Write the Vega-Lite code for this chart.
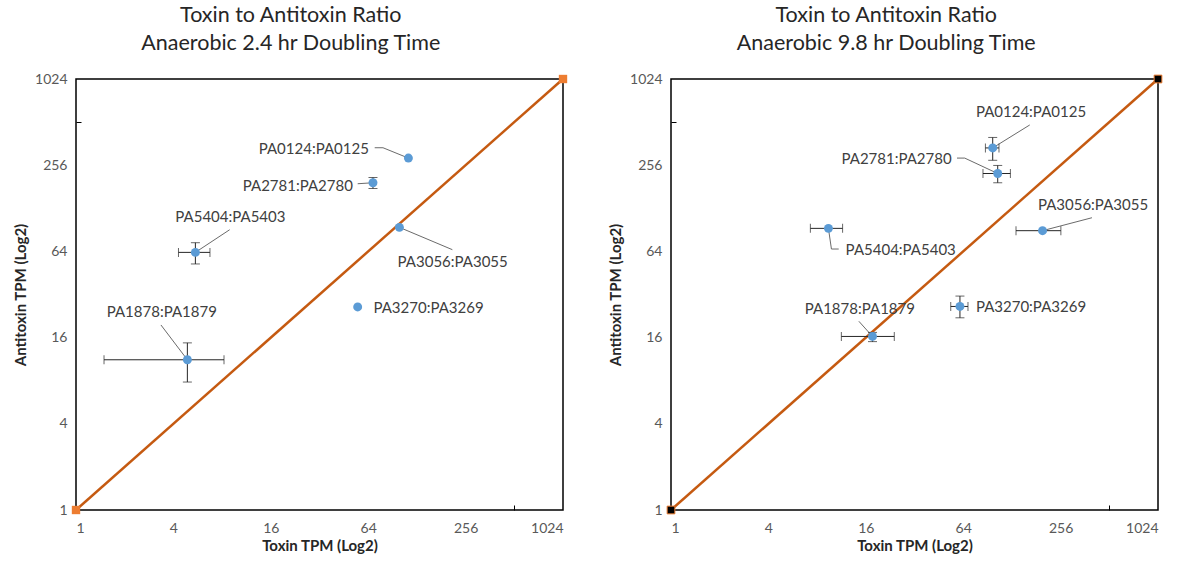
{
  "$schema": "https://vega.github.io/schema/vega-lite/v6.json",
  "padding": {"left": 12, "top": 3, "right": 5, "bottom": 5},
  "config": {
    "font": "Lato",
    "view": {"stroke": "#000000", "strokeWidth": 1.5},
    "axis": {"labelFontSize": 14, "labelColor": "#595959", "titleFontSize": 15, "titleFontWeight": "bold", "titleColor": "#262626", "grid": false, "domain": false, "format": "d",
      "ticks": true, "tickSize": -5, "tickColor": "#000000", "tickWidth": 1, "tickOpacity": {"expr": "datum.value === 512 ? 1 : 0"},
      "labelExpr": "datum.value === 512 ? '' : datum.label"},
    "title": {"fontSize": 21.5, "fontWeight": "normal", "color": "#262626", "lineHeight": 28, "offset": 18, "frame": "bounds"}
  },
  "datasets": {
    "diag": [{"x": 1, "y": 1}, {"x": 1024, "y": 1024}],
    "ptsL": [
      {"name": "PA0124:PA0125", "x": 113.4, "y": 287, "xlo": null, "xhi": null, "ylo": null, "yhi": null, "lx": 29.5, "ly": 332},
      {"name": "PA2781:PA2780", "x": 68.5, "y": 193, "xlo": null, "xhi": null, "ylo": 176, "yhi": 210, "lx": 23.5, "ly": 184},
      {"name": "PA5404:PA5403", "x": 5.47, "y": 63, "xlo": 4.3, "xhi": 6.73, "ylo": 52.3, "yhi": 73.6, "lx": 9.0, "ly": 110.6},
      {"name": "PA3056:PA3055", "x": 99.8, "y": 94.2, "xlo": null, "xhi": null, "ylo": null, "yhi": null, "lx": 213, "ly": 53.6},
      {"name": "PA3270:PA3269", "x": 55.1, "y": 26.2, "xlo": null, "xhi": null, "ylo": null, "yhi": null, "lx": 151, "ly": 25.8},
      {"name": "PA1878:PA1879", "x": 4.88, "y": 11.2, "xlo": 1.49, "xhi": 8.22, "ylo": 7.83, "yhi": 14.7, "lx": 3.39, "ly": 24.0}
    ],
    "ptsR": [
      {"name": "PA0124:PA0125", "x": 97.4, "y": 338, "xlo": 87.8, "xhi": 106.5, "ylo": 277, "yhi": 400, "lx": 168, "ly": 599},
      {"name": "PA2781:PA2780", "x": 104.6, "y": 224, "xlo": 84.8, "xhi": 125.3, "ylo": 193, "yhi": 255, "lx": 24.8, "ly": 283},
      {"name": "PA5404:PA5403", "x": 9.4, "y": 92.7, "xlo": 7.27, "xhi": 11.5, "ylo": null, "yhi": null, "lx": 26.3, "ly": 65.4},
      {"name": "PA3056:PA3055", "x": 198, "y": 89.3, "xlo": 135.7, "xhi": 257, "ylo": null, "yhi": null, "lx": 406, "ly": 135},
      {"name": "PA3270:PA3269", "x": 61.1, "y": 26.4, "xlo": 53.6, "xhi": 68.5, "ylo": 22.0, "yhi": 31.2, "lx": 168, "ly": 26.3},
      {"name": "PA1878:PA1879", "x": 17.6, "y": 16.3, "xlo": 11.3, "xhi": 24.0, "ylo": 15.0, "yhi": 17.4, "lx": 14.7, "ly": 25.3}
    ],
    "leadL": [
      {"name": "PA0124:PA0125", "ord": 1, "x": 70.2, "y": 339},
      {"name": "PA0124:PA0125", "ord": 2, "x": 79.0, "y": 339},
      {"name": "PA0124:PA0125", "ord": 3, "x": 113.4, "y": 287},
      {"name": "PA2781:PA2780", "ord": 1, "x": 55.1, "y": 190},
      {"name": "PA2781:PA2780", "ord": 2, "x": 68.5, "y": 193},
      {"name": "PA5404:PA5403", "ord": 1, "x": 8.91, "y": 90.7},
      {"name": "PA5404:PA5403", "ord": 2, "x": 5.47, "y": 63},
      {"name": "PA3056:PA3055", "ord": 1, "x": 212, "y": 65.8},
      {"name": "PA3056:PA3055", "ord": 2, "x": 99.8, "y": 94.2},
      {"name": "PA1878:PA1879", "ord": 1, "x": 3.35, "y": 19.6},
      {"name": "PA1878:PA1879", "ord": 2, "x": 4.88, "y": 11.2}
    ],
    "leadR": [
      {"name": "PA0124:PA0125", "ord": 1, "x": 165, "y": 489},
      {"name": "PA0124:PA0125", "ord": 2, "x": 97.4, "y": 338},
      {"name": "PA2781:PA2780", "ord": 1, "x": 58.6, "y": 287},
      {"name": "PA2781:PA2780", "ord": 2, "x": 65.4, "y": 287},
      {"name": "PA2781:PA2780", "ord": 3, "x": 104.6, "y": 224},
      {"name": "PA5404:PA5403", "ord": 1, "x": 10.88, "y": 66.5},
      {"name": "PA5404:PA5403", "ord": 2, "x": 9.81, "y": 66.5},
      {"name": "PA5404:PA5403", "ord": 3, "x": 9.4, "y": 92.7},
      {"name": "PA3056:PA3055", "ord": 1, "x": 400, "y": 110},
      {"name": "PA3056:PA3055", "ord": 2, "x": 198, "y": 89.3},
      {"name": "PA1878:PA1879", "ord": 1, "x": 14.5, "y": 20.8},
      {"name": "PA1878:PA1879", "ord": 2, "x": 17.6, "y": 16.3}
    ]
  },
  "spacing": 38,
  "hconcat": [
    {
      "width": 487, "height": 431,
      "title": {"text": ["Toxin to Antitoxin Ratio", "Anaerobic 2.4 hr Doubling Time"]},
      "layer": [
        {"data": {"name": "diag"}, "mark": {"type": "line", "color": "#C55A11", "strokeWidth": 2.5},
         "encoding": {
           "x": {"field": "x", "type": "quantitative", "title": "Toxin TPM (Log2)", "scale": {"type": "log", "base": 2, "domain": [1, 1024], "nice": false}, "axis": {"values": [1, 4, 16, 64, 256, 512, 1024], "labelPadding": 16, "titlePadding": 3}},
           "y": {"field": "y", "type": "quantitative", "title": "Antitoxin TPM (Log2)", "scale": {"type": "log", "base": 2, "domain": [1, 1024], "nice": false}, "axis": {"values": [1, 4, 16, 64, 256, 512, 1024], "labelPadding": 14, "titlePadding": 6}}
         }},
        {"data": {"name": "diag"}, "mark": {"type": "square", "size": 70, "opacity": 1, "color": "#ED7D31", "clip": false},
         "encoding": {"x": {"field": "x", "type": "quantitative"}, "y": {"field": "y", "type": "quantitative"}}},
        {"data": {"name": "leadL"}, "mark": {"type": "line", "color": "#595959", "strokeWidth": 0.9},
         "encoding": {"x": {"field": "x", "type": "quantitative"}, "y": {"field": "y", "type": "quantitative"}, "detail": {"field": "name"}, "order": {"field": "ord"}}},
        {"data": {"name": "ptsL"}, "transform": [{"filter": "isValid(datum.xlo)"}],
         "layer": [
           {"mark": {"type": "rule", "color": "#262626", "strokeWidth": 1},
            "encoding": {"x": {"field": "xlo", "type": "quantitative"}, "x2": {"field": "xhi"}, "y": {"field": "y", "type": "quantitative"}}},
           {"mark": {"type": "tick", "orient": "vertical", "size": 9, "thickness": 1, "color": "#262626"},
            "encoding": {"x": {"field": "xlo", "type": "quantitative"}, "y": {"field": "y", "type": "quantitative"}}},
           {"mark": {"type": "tick", "orient": "vertical", "size": 9, "thickness": 1, "color": "#262626"},
            "encoding": {"x": {"field": "xhi", "type": "quantitative"}, "y": {"field": "y", "type": "quantitative"}}}
         ]},
        {"data": {"name": "ptsL"}, "transform": [{"filter": "isValid(datum.ylo)"}],
         "layer": [
           {"mark": {"type": "rule", "color": "#262626", "strokeWidth": 1},
            "encoding": {"y": {"field": "ylo", "type": "quantitative"}, "y2": {"field": "yhi"}, "x": {"field": "x", "type": "quantitative"}}},
           {"mark": {"type": "tick", "orient": "horizontal", "size": 9, "thickness": 1, "color": "#262626"},
            "encoding": {"y": {"field": "ylo", "type": "quantitative"}, "x": {"field": "x", "type": "quantitative"}}},
           {"mark": {"type": "tick", "orient": "horizontal", "size": 9, "thickness": 1, "color": "#262626"},
            "encoding": {"y": {"field": "yhi", "type": "quantitative"}, "x": {"field": "x", "type": "quantitative"}}}
         ]},
        {"data": {"name": "ptsL"}, "mark": {"type": "circle", "size": 80, "opacity": 1, "color": "#5B9BD5"},
         "encoding": {"x": {"field": "x", "type": "quantitative"}, "y": {"field": "y", "type": "quantitative"}}},
        {"data": {"name": "ptsL"}, "mark": {"type": "text", "fontSize": 15, "color": "#404040", "align": "center", "baseline": "middle"},
         "encoding": {"x": {"field": "lx", "type": "quantitative"}, "y": {"field": "ly", "type": "quantitative"}, "text": {"field": "name"}}}
      ]
    },
    {
      "width": 487, "height": 431,
      "title": {"text": ["Toxin to Antitoxin Ratio", "Anaerobic 9.8 hr Doubling Time"]},
      "layer": [
        {"data": {"name": "diag"}, "mark": {"type": "line", "color": "#C55A11", "strokeWidth": 2.5},
         "encoding": {
           "x": {"field": "x", "type": "quantitative", "title": "Toxin TPM (Log2)", "scale": {"type": "log", "base": 2, "domain": [1, 1024], "nice": false}, "axis": {"values": [1, 4, 16, 64, 256, 512, 1024], "labelPadding": 16, "titlePadding": 3}},
           "y": {"field": "y", "type": "quantitative", "title": "Antitoxin TPM (Log2)", "scale": {"type": "log", "base": 2, "domain": [1, 1024], "nice": false}, "axis": {"values": [1, 4, 16, 64, 256, 512, 1024], "labelPadding": 14, "titlePadding": 6}}
         }},
        {"data": {"name": "diag"}, "mark": {"type": "square", "size": 60, "opacity": 1, "color": "#000000", "stroke": "#ED7D31", "strokeWidth": 1, "clip": false},
         "encoding": {"x": {"field": "x", "type": "quantitative"}, "y": {"field": "y", "type": "quantitative"}}},
        {"data": {"name": "leadR"}, "mark": {"type": "line", "color": "#595959", "strokeWidth": 0.9},
         "encoding": {"x": {"field": "x", "type": "quantitative"}, "y": {"field": "y", "type": "quantitative"}, "detail": {"field": "name"}, "order": {"field": "ord"}}},
        {"data": {"name": "ptsR"}, "transform": [{"filter": "isValid(datum.xlo)"}],
         "layer": [
           {"mark": {"type": "rule", "color": "#262626", "strokeWidth": 1},
            "encoding": {"x": {"field": "xlo", "type": "quantitative"}, "x2": {"field": "xhi"}, "y": {"field": "y", "type": "quantitative"}}},
           {"mark": {"type": "tick", "orient": "vertical", "size": 9, "thickness": 1, "color": "#262626"},
            "encoding": {"x": {"field": "xlo", "type": "quantitative"}, "y": {"field": "y", "type": "quantitative"}}},
           {"mark": {"type": "tick", "orient": "vertical", "size": 9, "thickness": 1, "color": "#262626"},
            "encoding": {"x": {"field": "xhi", "type": "quantitative"}, "y": {"field": "y", "type": "quantitative"}}}
         ]},
        {"data": {"name": "ptsR"}, "transform": [{"filter": "isValid(datum.ylo)"}],
         "layer": [
           {"mark": {"type": "rule", "color": "#262626", "strokeWidth": 1},
            "encoding": {"y": {"field": "ylo", "type": "quantitative"}, "y2": {"field": "yhi"}, "x": {"field": "x", "type": "quantitative"}}},
           {"mark": {"type": "tick", "orient": "horizontal", "size": 9, "thickness": 1, "color": "#262626"},
            "encoding": {"y": {"field": "ylo", "type": "quantitative"}, "x": {"field": "x", "type": "quantitative"}}},
           {"mark": {"type": "tick", "orient": "horizontal", "size": 9, "thickness": 1, "color": "#262626"},
            "encoding": {"y": {"field": "yhi", "type": "quantitative"}, "x": {"field": "x", "type": "quantitative"}}}
         ]},
        {"data": {"name": "ptsR"}, "mark": {"type": "circle", "size": 80, "opacity": 1, "color": "#5B9BD5"},
         "encoding": {"x": {"field": "x", "type": "quantitative"}, "y": {"field": "y", "type": "quantitative"}}},
        {"data": {"name": "ptsR"}, "mark": {"type": "text", "fontSize": 15, "color": "#404040", "align": "center", "baseline": "middle"},
         "encoding": {"x": {"field": "lx", "type": "quantitative"}, "y": {"field": "ly", "type": "quantitative"}, "text": {"field": "name"}}}
      ]
    }
  ]
}
